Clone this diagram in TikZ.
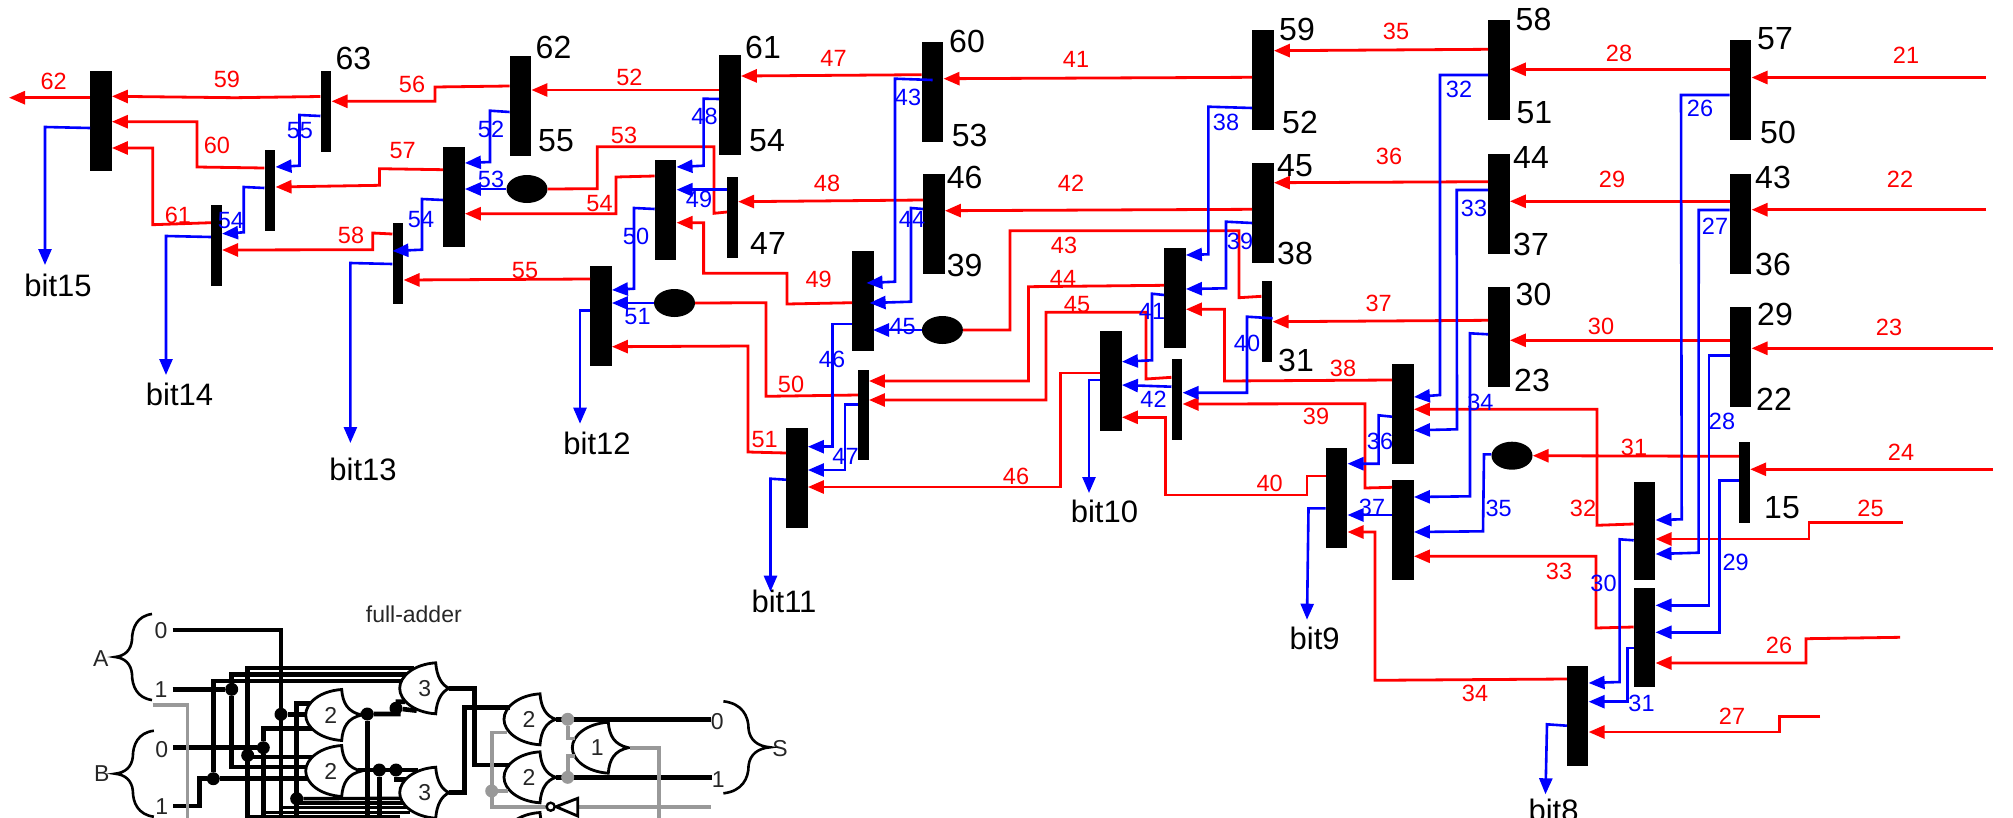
\documentclass[tikz,border=0pt]{standalone}
\usepackage{fontspec}
\setmainfont{Liberation Sans}
\usepackage{xcolor}
\usepackage{tikz}
\usetikzlibrary{shapes,arrows.meta}
\definecolor{wiregray}{HTML}{999999}
\def\orgate#1#2#3#4#5{\draw[gate,shift={(#2,#3)}] (0,-25.5) .. controls (-22,-24) and (-36,-12) .. (-36,0) .. controls (-36,12) and (-22,24) .. (0,25.5) .. controls (1,12) and (6,3) .. (#5,0) coordinate (#1 tip) .. controls (6,-3) and (1,-12) .. cycle; \node[gnum] (#1) at (#2-11,#3) {#4};}
\def\curlyb#1#2#3#4{\draw[brc,shift={(#1,#2)},xscale=#3,yscale=#4] (37,-43) .. controls (22,-41) and (17,-29) .. (17,-17) .. controls (16,-7) and (10,-1) .. (0,0) .. controls (10,1) and (16,7) .. (17,17) .. controls (17,29) and (22,41) .. (37,43);}
\tikzstyle{thickbar}=[fill=black,inner sep=0,minimum width=21.4pt,minimum height=100pt]
\tikzstyle{thinbar}=[fill=black,inner sep=0,minimum width=10.7pt,minimum height=81pt]
\tikzstyle{blob}=[ellipse,fill=black,inner sep=0,minimum width=41pt,minimum height=28pt]
\tikzstyle{rw}=[draw=red,line width=2.8pt]
\tikzstyle{bw}=[draw=blue,line width=2.6pt]
\tikzstyle{aw}=[draw=black,line width=4.6pt]
\tikzstyle{band}=[draw=black,line width=3.4pt]
\tikzstyle{gw}=[draw=wiregray,line width=3.6pt]
\tikzstyle{gate}=[draw=black,line width=2.8pt,fill=white,line join=miter]
\tikzstyle{brc}=[draw=black,line width=2.6pt]
\tikzstyle{jdot}=[circle,fill=black,inner sep=0,minimum size=13pt]
\tikzstyle{gdot}=[circle,fill=wiregray,inner sep=0,minimum size=13pt]
\tikzstyle{poslab}=[text=black,inner sep=0,font=\fontsize{32}{32}\selectfont]
\tikzstyle{bitlab}=[text=black,inner sep=0,font=\fontsize{31}{31}\selectfont]
\tikzstyle{rnum}=[text=red,inner sep=0,font=\fontsize{23.5}{24}\selectfont]
\tikzstyle{bnum}=[text=blue,inner sep=0,font=\fontsize{23.5}{24}\selectfont]
\tikzstyle{gnum}=[text=black!85,inner sep=0,font=\fontsize{23}{23}\selectfont]
\begin{document}
\begin{tikzpicture}[x=1pt,y=-1pt,>={Triangle[length=16pt,width=13pt]}]
    \useasboundingbox (0,0) rectangle (2013,817);
    \clip (0,0) rectangle (2013,817);
    \node[thickbar] (s15) at (101,121) {};
    \node[thinbar] (b63) at (326,111.5) {};
    \node[thinbar] (t14) at (270,190.5) {};
    \node[thinbar] (s14) at (216.5,245) {};
    \node[thickbar] (b62) at (520.5,106) {};
    \node[thickbar] (m13) at (454,197) {};
    \node[thinbar] (s13) at (398,263.5) {};
    \node[thickbar] (s12) at (601,316) {};
    \node[thickbar] (m12) at (665.6,210) {};
    \node[thickbar] (b61) at (730,105) {};
    \node[thinbar] (b47) at (732.6,217) {};
    \node[thickbar] (b60) at (932.6,92) {};
    \node[thickbar] (b46) at (934,224) {};
    \node[thickbar] (m11) at (863,301) {};
    \node[thinbar,minimum height=90pt] (t11) at (863.4,415) {};
    \node[thickbar] (s11) at (797,478) {};
    \node[thickbar] (b59) at (1263,80) {};
    \node[thickbar] (b45) at (1263,213) {};
    \node[thinbar] (b31) at (1267,321) {};
    \node[thickbar] (m10) at (1175,298) {};
    \node[thickbar] (s10) at (1111,381) {};
    \node[thinbar] (t10) at (1177,399.5) {};
    \node[thickbar] (m9) at (1403,414) {};
    \node[thickbar] (n9) at (1403,530) {};
    \node[thickbar] (s9) at (1336.6,498) {};
    \node[thickbar] (b58) at (1499,70) {};
    \node[thickbar] (b44) at (1499,204) {};
    \node[thickbar] (b30) at (1499,337) {};
    \node[thickbar] (b57) at (1740.6,90) {};
    \node[thickbar] (b43) at (1740.6,224) {};
    \node[thickbar] (b29) at (1740.6,357) {};
    \node[thinbar] (b15) at (1744.6,482.5) {};
    \node[thickbar,minimum height=98pt] (m8) at (1644.6,531) {};
    \node[thickbar,minimum height=99pt] (n8) at (1644.6,637.5) {};
    \node[thickbar] (s8) at (1577.7,716) {};
    \node[blob] (e13) at (527,189) {};
    \node[blob] (e12) at (674.5,303) {};
    \node[blob] (e11) at (942.4,330) {};
    \node[blob] (e9) at (1512,455.7) {};
    \node[bitlab] (bit15) at (58,285) {bit15};
    \node[bitlab] (bit14) at (179.5,394) {bit14};
    \node[bitlab] (bit13) at (363,469) {bit13};
    \node[bitlab] (bit12) at (597,443) {bit12};
    \node[bitlab] (bit11) at (784,601) {bit11};
    \node[bitlab] (bit10) at (1104.4,511.7) {bit10};
    \node[bitlab] (bit9) at (1314.7,638) {bit9};
    \node[bitlab] (bit8) at (1553.6,810) {bit8};
    \coordinate (out62) at (9,97.7);
    \coordinate (in21) at (1986,77.5);
    \coordinate (in22) at (1986,209.7);
    \coordinate (in23) at (1993,348.3);
    \coordinate (in24) at (1993,469.3);
    \coordinate (in25) at (1902.6,522.7);
    \coordinate (in26) at (1900,637.3);
    \coordinate (in27) at (1820,716.3);
    \draw[rw,->] (s15.west |- 0,97.7) -- (out62);
    \draw[rw,->] (b63.west |- 0,96.5) -- (235,97.7) -- (s15.east |- 0,96.3);
    \draw[rw,->] (b62.west |- 0,86) -- (435,87) -- (435,101.3) -- (b63.east |- 0,101.3);
    \draw[rw,->] (b61.west |- 0,90) -- (b62.east |- 0,90);
    \draw[rw,->] (t14.west |- 0,168) -- (197,167) -- (197,121.7) -- (s15.east |- 0,121.7);
    \draw[rw,->] (s14.west |- 0,222.7) -- (152.7,224.7) -- (152.7,148) -- (s15.east |- 0,148);
    \draw[rw,->] (m13.west |- 0,169.7) -- (379.4,168.7) -- (379.4,185.3) -- (t14.east |- 0,187);
    \draw[rw,->] (s13.west |- 0,234) -- (372.8,233) -- (372.8,249.7) -- (s14.east |- 0,250);
    \draw[rw] (b47.west |- 0,212) -- (714,213.3) -- (714,146.7) -- (597.3,146.7) -- (597.3,188.7) -- (e13.east);
    \draw[rw,->] (m12.west |- 0,176) -- (616,177) -- (616,213.7) -- (m13.east |- 0,213.7);
    \draw[rw,->] (s12.west |- 0,279) -- (s13.east |- 0,280);
    \draw[rw,->] (s11.west |- 0,453) -- (748,452) -- (748,346) -- (s12.east |- 0,346.7);
    \draw[rw,->] (b60.west |- 0,74.7) -- (b61.east |- 0,76);
    \draw[rw,->] (b59.west |- 0,77.3) -- (b60.east |- 0,78.7);
    \draw[rw,->] (b46.west |- 0,200) -- (b47.east |- 0,201.7);
    \draw[rw,->] (b45.west |- 0,209.3) -- (b46.east |- 0,210.7);
    \draw[rw,->] (m11.west |- 0,302.7) -- (787,304) -- (787,273.3) -- (703.6,273.3) -- (703.6,222.7) -- (m12.east |- 0,222.7);
    \draw[rw] (t11.west |- 0,395) -- (766,396.3) -- (766,302.7) -- (e12.east);
    \draw[rw] (e11.east) -- (1010,330) -- (1010,230.7) -- (1239,230.7) -- (1239,297.7) -- (b31.west |- 0,296.3);
    \draw[rw,->] (m10.west |- 0,285.3) -- (1028.5,286.7) -- (1028.5,381) -- (t11.east |- 0,381);
    \draw[rw,->] (t10.west |- 0,377.3) -- (1146,379) -- (1146,312.3) -- (1046,312.3) -- (1046,400) -- (t11.east |- 0,400);
    \draw[rw,->] (s10.west |- 0,373) -- (1060.7,373) -- (1060.7,487) -- (s11.east |- 0,487);
    \draw[rw,->] (m9.west |- 0,380) -- (1224.5,381) -- (1224.5,309.3) -- (m10.east |- 0,309.3);
    \draw[rw,->] (n9.west |- 0,487.3) -- (1365,488) -- (1365,403.7) -- (t10.east |- 0,404);
    \draw[rw,->] (s9.west |- 0,476) -- (1307,476) -- (1307,495) -- (1165.6,495) -- (1165.6,417.3) -- (s10.east |- 0,417.3);
    \draw[rw,->] (b30.west |- 0,320.3) -- (b31.east |- 0,321.7);
    \draw[rw,->] (b58.west |- 0,49.3) -- (b59.east |- 0,50.7);
    \draw[rw,->] (b44.west |- 0,181.7) -- (b45.east |- 0,182.7);
    \draw[rw,->] (b57.west |- 0,69.3) -- (b58.east |- 0,69.3);
    \draw[rw,->] (b43.west |- 0,201.3) -- (b44.east |- 0,201.3);
    \draw[rw,->] (b29.west |- 0,340.3) -- (b30.east |- 0,340.3);
    \draw[rw,->] (in21) -- (b57.east |- in21);
    \draw[rw,->] (in22) -- (b43.east |- in22);
    \draw[rw,->] (in23) -- (b29.east |- in23);
    \draw[rw,->] (in24) -- (b15.east |- in24);
    \draw[rw,->] (b15.west |- 0,456.3) -- (e9.east);
    \draw[rw,->] (m8.west |- 0,524) -- (1597,525.3) -- (1597,409.3) -- (m9.east |- 0,409.3);
    \draw[rw,->] (n8.west |- 0,627) -- (1596,628) -- (1596,556.3) -- (n9.east |- 0,556.3);
    \draw[rw,->] (s8.west |- 0,679) -- (1375,680.3) -- (1375,532) -- (s9.east |- 0,532);
    \draw[rw,->] (in25) -- (1809,522.7) -- (1809,539) -- (m8.east |- 0,539);
    \draw[rw,->] (in26) -- (1806,638.7) -- (1806,663) -- (n8.east |- 0,663);
    \draw[rw,->] (in27) -- (1779.4,716.3) -- (1779.4,732) -- (s8.east |- 0,732);
    \draw[bw,->] (s15.west |- 0,128) -- (45,127) -- (45,265);
    \draw[bw,->] (b63.west |- 0,116) -- (299.5,115) -- (299.5,165.7) -- (t14.east |- 0,167);
    \draw[bw,->] (t14.west |- 0,188) -- (243.7,187) -- (243.7,232.3) -- (s14.east |- 0,233.7);
    \draw[bw,->] (s14.west |- 0,237) -- (166,236) -- (166,375);
    \draw[bw,->] (b62.west |- 0,112) -- (490,110.7) -- (490,162) -- (m13.east |- 0,163);
    \draw[bw,->] (e13.west) -- (m13.east |- e13);
    \draw[bw,->] (m13.west |- 0,200) -- (422,199) -- (422,249.7) -- (s13.west |- 0,251);
    \draw[bw,->] (s13.west |- 0,264) -- (350.4,263) -- (350.4,443);
    \draw[bw,->] (m12.west |- 0,209) -- (634,208) -- (634,288.7) -- (s12.east |- 0,290);
    \draw[bw,->] (e12.west) -- (s12.east |- e12);
    \draw[bw,->] (s12.west |- 0,310.7) -- (580,310.7) -- (580,423.7);
    \draw[bw,->] (b61.west |- 0,99) -- (703.6,98.7) -- (703.6,165.7) -- (m12.east |- 0,167);
    \draw[bw,->] (b47.west |- 0,189.7) -- (m12.east |- 0,189.7);
    \draw[bw,->] (b60.center |- 0,80) -- (895,78.7) -- (895,281.7) -- (866.5,283);
    \draw[bw,->] (b46.west |- 0,209) -- (911,208) -- (911,301.7) -- (869.6,303);
    \draw[bw,->] (e11.west) -- (873,330);
    \draw[bw,->] (m11.west |- 0,324) -- (832.6,324) -- (832.6,446.7) -- (s11.east |- 0,446.7);
    \draw[bw,->] (t11.west |- 0,404.7) -- (845,404.7) -- (845,470) -- (s11.east |- 0,470);
    \draw[bw,->] (s11.west |- 0,479.7) -- (770.5,478.7) -- (770.5,591.7);
    \draw[bw,->] (b59.west |- 0,108) -- (1208.4,106.7) -- (1208.4,254.3) -- (m10.east |- 0,255);
    \draw[bw,->] (b45.west |- 0,223) -- (1226,221.7) -- (1226,288.3) -- (m10.east |- 0,289);
    \draw[bw,->] (m10.west |- 0,295) -- (1152,293.7) -- (1152,360.3) -- (s10.east |- 0,361.7);
    \draw[bw,->] (b31.east |- 0,318.3) -- (1247,316.7) -- (1247,392.7) -- (t10.east |- 0,392.7);
    \draw[bw,->] (t10.west |- 0,386.7) -- (s10.east |- 0,385);
    \draw[bw,->] (s10.west |- 0,380) -- (1089,380) -- (1089,493);
    \draw[bw,->] (b58.west |- 0,75) -- (1440,75) -- (1440,395) -- (m9.east |- 0,397);
    \draw[bw,->] (b44.west |- 0,190) -- (1456.7,190) -- (1457,429.3) -- (m9.east |- 0,430.3);
    \draw[bw,->] (b30.west |- 0,334.3) -- (1470,333.3) -- (1470,496.3) -- (n9.east |- 0,497);
    \draw[bw,->] (b57.west |- 0,95) -- (1681,95) -- (1681.7,519.3) -- (m8.east |- 0,520);
    \draw[bw,->] (b43.west |- 0,210) -- (1698.7,210) -- (1698.6,552.7) -- (m8.east |- 0,554);
    \draw[bw,->] (b29.west |- 0,355.7) -- (1709,355.7) -- (1709,605.3) -- (n8.east |- 0,605.3);
    \draw[bw,->] (m9.west |- 0,416.7) -- (1378.6,415.3) -- (1378.6,463.7) -- (s9.east |- 0,463.7);
    \draw[bw,->] (n9.west |- 0,515) -- (s9.east |- 0,515);
    \draw[bw,->] (s9.west |- 0,508.3) -- (1308.5,508.3) -- (1307,619.7);
    \draw[bw,->] (e9.west |- 0,454.3) -- (1484,454.3) -- (1483,531.3) -- (n9.east |- 0,532);
    \draw[bw,->] (b15.west |- 0,480.3) -- (1719.6,480.3) -- (1719.6,632.3) -- (n8.east |- 0,632.3);
    \draw[bw,->] (m8.west |- 0,540.3) -- (1619.6,539.3) -- (1619.6,682) -- (s8.east |- 0,683);
    \draw[bw,->] (n8.west |- 0,648) -- (1627.7,648) -- (1627.7,701.7) -- (s8.east |- 0,701.7);
    \draw[bw,->] (s8.west |- 0,725.7) -- (1547,724.3) -- (1545.5,794.3);
    \node[poslab] (p63) at (353.5,58) {63};
    \node[poslab] (p62) at (553.5,47) {62};
    \node[poslab] (p55) at (556,141) {55};
    \node[poslab] (p61) at (763,47) {61};
    \node[poslab] (p54) at (767,141) {54};
    \node[poslab] (p47) at (768,243) {47};
    \node[poslab] (p60) at (967,41) {60};
    \node[poslab] (p53) at (969.6,135) {53};
    \node[poslab] (p46) at (964.7,177.7) {46};
    \node[poslab] (p39) at (964.7,265) {39};
    \node[poslab] (p59) at (1297,29) {59};
    \node[poslab] (p52) at (1300,122.7) {52};
    \node[poslab] (p45) at (1295,166) {45};
    \node[poslab] (p38) at (1295,253) {38};
    \node[poslab] (p31) at (1296,360.7) {31};
    \node[poslab] (p58) at (1533.5,19) {58};
    \node[poslab] (p51) at (1534.4,113) {51};
    \node[poslab] (p44) at (1531,157) {44};
    \node[poslab] (p37) at (1531,244) {37};
    \node[poslab] (p30) at (1533.5,294) {30};
    \node[poslab] (p23) at (1532,380) {23};
    \node[poslab] (p57) at (1775,39) {57};
    \node[poslab] (p50) at (1778,132.7) {50};
    \node[poslab] (p43) at (1773,177) {43};
    \node[poslab] (p36) at (1773,264) {36};
    \node[poslab] (p29) at (1775,314) {29};
    \node[poslab] (p22) at (1774,399) {22};
    \node[poslab] (p15) at (1782,508) {15};
    \node[rnum] (r62) at (53.6,81) {62};
    \node[rnum] (r59) at (227,79) {59};
    \node[rnum] (r56) at (412,84) {56};
    \node[rnum] (r52) at (629.4,77) {52};
    \node[rnum] (r60) at (217,145) {60};
    \node[rnum] (r61) at (178,215) {61};
    \node[rnum] (r57) at (402.7,151) {57};
    \node[rnum] (r58) at (351,235) {58};
    \node[rnum] (r53) at (624,135) {53};
    \node[rnum] (r54) at (599.5,203.7) {54};
    \node[rnum] (r55) at (525,270.7) {55};
    \node[rnum] (r51) at (764.7,440) {51};
    \node[rnum] (r47) at (833.5,58.7) {47};
    \node[rnum] (r41) at (1076,59) {41};
    \node[rnum] (r48) at (827,183.7) {48};
    \node[rnum] (r42) at (1071,183.7) {42};
    \node[rnum] (r49) at (818.7,279) {49};
    \node[rnum] (r50) at (791,384) {50};
    \node[rnum] (r43) at (1064,245) {43};
    \node[rnum] (r44) at (1063,278) {44};
    \node[rnum] (r45) at (1077,305) {45};
    \node[rnum] (r46) at (1016,476) {46};
    \node[rnum] (r38) at (1343,368) {38};
    \node[rnum] (r39) at (1316,416.7) {39};
    \node[rnum] (r40) at (1269.6,483) {40};
    \node[rnum] (r37) at (1378.6,303.7) {37};
    \node[rnum] (r35) at (1396,31) {35};
    \node[rnum] (r36) at (1389,156) {36};
    \node[rnum] (r28) at (1619,53) {28};
    \node[rnum] (r29) at (1612,179) {29};
    \node[rnum] (r30) at (1601,326.7) {30};
    \node[rnum] (r21) at (1906,55) {21};
    \node[rnum] (r22) at (1900,179.7) {22};
    \node[rnum] (r23) at (1889,327.7) {23};
    \node[rnum] (r24) at (1901,452) {24};
    \node[rnum] (r31) at (1634,447) {31};
    \node[rnum] (r32) at (1583,508) {32};
    \node[rnum] (r33) at (1559,571) {33};
    \node[rnum] (r34) at (1475,693) {34};
    \node[rnum] (r25) at (1870.5,508.7) {25};
    \node[rnum] (r26) at (1779,645) {26};
    \node[rnum] (r27) at (1732,716) {27};
    \node[bnum] (l55) at (300,131) {55};
    \node[bnum] (l54a) at (231,221) {54};
    \node[bnum] (l52) at (491,129) {52};
    \node[bnum] (l53) at (491,179) {53};
    \node[bnum] (l54b) at (421,220) {54};
    \node[bnum] (l50) at (636,236) {50};
    \node[bnum] (l51) at (637.5,316.7) {51};
    \node[bnum] (l48) at (704.5,116) {48};
    \node[bnum] (l49) at (699,199) {49};
    \node[bnum] (l43) at (908,97) {43};
    \node[bnum] (l44) at (912,219) {44};
    \node[bnum] (l45) at (902.7,327) {45};
    \node[bnum] (l46) at (832,359) {46};
    \node[bnum] (l47) at (845.5,456) {47};
    \node[bnum] (l38) at (1226,122.7) {38};
    \node[bnum] (l39) at (1240,241.7) {39};
    \node[bnum] (l41) at (1152,311.7) {41};
    \node[bnum] (l40) at (1247,343) {40};
    \node[bnum] (l42) at (1153.5,399.3) {42};
    \node[bnum] (l32) at (1459,89) {32};
    \node[bnum] (l33) at (1474,208) {33};
    \node[bnum] (l34) at (1480.4,402.3) {34};
    \node[bnum] (l26) at (1700,108) {26};
    \node[bnum] (l27) at (1715,226.7) {27};
    \node[bnum] (l28) at (1722,421) {28};
    \node[bnum] (l36) at (1380,441) {36};
    \node[bnum] (l37) at (1372,507) {37};
    \node[bnum] (l35) at (1498.6,508) {35};
    \node[bnum] (l29) at (1735.7,562.7) {29};
    \node[bnum] (l30) at (1603.5,583) {30};
    \node[bnum] (l31) at (1641.5,703) {31};
    \node[gnum] (title) at (413.8,614.3) {full-adder};
    \node[gnum] (lA) at (100.7,658.7) {A};
    \node[gnum] (a0) at (161,631) {0};
    \node[gnum] (a1) at (161,689.3) {1};
    \node[gnum] (lB) at (101.7,773.7) {B};
    \node[gnum] (b0) at (161.7,749.3) {0};
    \node[gnum] (b1) at (161.7,807) {1};
    \node[gnum] (s0) at (717.3,721.7) {0};
    \node[gnum] (s1) at (718.3,779.3) {1};
    \node[gnum] (lS) at (780,748.3) {S};
    \curlyb{115}{657}{1}{1}
    \curlyb{115}{773.7}{1.05}{1}
    \curlyb{770}{747.3}{-1.26}{1.07}
    \node[jdot] (ja1) at (231.7,689.3) {};
    \node[jdot] (ja0) at (281,714.3) {};
    \node[jdot] (jb0) at (263.3,747.7) {};
    \node[jdot] (jc0) at (247.7,755.3) {};
    \node[jdot] (jb1) at (213.3,778.7) {};
    \node[jdot] (jd) at (296.7,798.7) {};
    \node[jdot] (ju) at (367.3,714) {};
    \node[jdot] (jv) at (396,708.3) {};
    \node[jdot] (jw) at (379.3,770) {};
    \node[jdot] (jx) at (396,770) {};
    \draw[aw] (a0.east) ++(5,-1) -| (281,820);
    \draw[band] (281,807.7) -- (408,807.7);
    \draw[aw] (ja0) -- (312,714.3);
    \draw[aw] (a1.east) ++(5,0) -- (ja1);
    \draw[aw] (ja1) -- (231.7,674.3) -- (412,674.3);
    \draw[aw] (ja1) -- (231.7,767) -- (312,767);
    \draw[aw] (jb1) -- (213.3,681) -- (408,681);
    \draw[aw] (b1.east) ++(5,-1) -| (199.3,778.7) -- (jb1) -- (312,778.7);
    \draw[aw] (b0.east) ++(5,-1.6) -- (jb0);
    \draw[aw] (247.7,820) -- (247.7,668) -- (414,668);
    \draw[aw] (jc0) -- (247.7,757) -- (312,757);
    \draw[aw] (jb0) -- (263.3,728.7) -- (312,728.7);
    \draw[aw] (jb0) -- (263.3,820);
    \draw[band] (263.3,812.7) -- (410,812.7);
    \draw[band] (247.7,816.9) -- (400,816.9);
    \draw[aw] (312,703.3) -- (296.7,703.3) -- (296.7,820);
    \draw[band] (jd) -- (402,798.3);
    \draw[band] (296.7,802.8) -- (404,802.8);
    \draw[aw] (361,714) -- (ju) -- (398.3,714) -- (398,701.7) -- (405,701.7);
    \draw[aw] (jv) -- (416.7,710.7);
    \draw[aw] (ju) -- (367.3,820);
    \draw[aw] (358,770) -- (418,770);
    \draw[aw] (jw) -- (379.3,820);
    \draw[aw] (jx) -- (396,779.3) -- (410,779.3);
    \orgate{g3a}{435.7}{688.3}{3}{13.6}
    \orgate{g3b}{435.7}{792.7}{3}{13.6}
    \orgate{g2a}{341.7}{715}{2}{20}
    \orgate{g2b}{341.7}{771}{2}{20}
    \orgate{g2c}{540}{719.3}{2}{16}
    \orgate{g2d}{540}{777.3}{2}{16}
    \orgate{g2e}{540}{838}{}{16}
    \orgate{g1}{608.3}{747.7}{1}{20}
    \draw[aw] (g3a tip) -| (474.3,765) -- (510,765);
    \draw[aw] (g3b tip) -| (464.3,707.7) -- (510,707.7);
    \draw[aw] (g2c tip) -- (s0.west |- 0,719.3);
    \draw[aw] (g2d tip) -- (s1.west |- 0,777.3);
    \node[gdot] (jg0) at (567.7,719.3) {};
    \node[gdot] (jg1) at (567.7,777.3) {};
    \node[gdot] (jg2) at (491.7,791) {};
    \draw[gw] (152.7,704.7) -| (187.3,820);
    \draw[gw] (jg0) -- (567.7,738.3) -- (575,738.3);
    \draw[gw] (jg1) -- (567.7,755.7) -- (575,755.7);
    \draw[gw] (g1 tip) ++(2,0) -| (659,820);
    \draw[gw] (507,732.3) -- (491.7,732.3) -- (491.7,806.7) -- (548,806.7);
    \draw[gw] (jg2) -- (508,791);
    \draw[gw] (577.7,806.7) -- (710.7,806.7);
    \draw[gate] (577.7,798.3) -- (577.7,816) -- (556,806.7) -- cycle;
    \node[circle,draw=black,line width=2.4pt,fill=white,inner sep=0,minimum size=8pt] (inv) at (550.7,806.7) {};
\end{tikzpicture}
\end{document}
